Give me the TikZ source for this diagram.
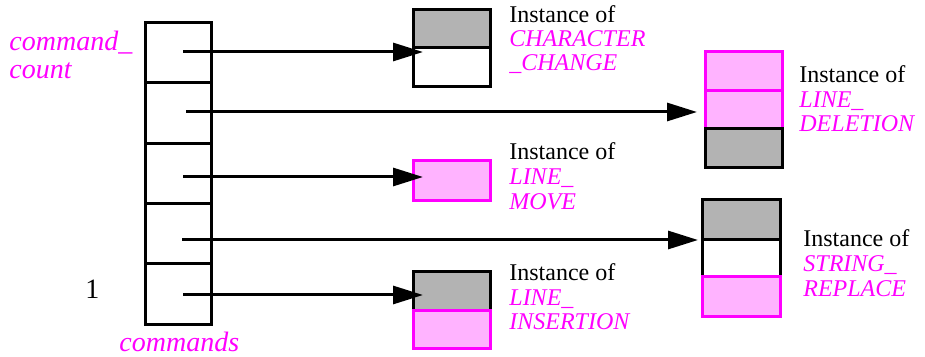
\documentclass[tikz,border=0pt]{standalone}
\usepackage{fontspec}
\setmainfont{Liberation Serif}[ItalicFont={Liberation Serif Italic}]
\usetikzlibrary{arrows.meta}
\definecolor{mag}{HTML}{FF00FF}
\definecolor{pinkfill}{HTML}{FFB3FF}
\definecolor{grayfill}{HTML}{B3B3B3}
\tikzset{
  lw/.style={line width=1.5pt},
  arr/.style={lw, -{Triangle[length=15pt,width=9pt]}},
  lab/.style={anchor=base west, inner sep=0pt, font=\fontsize{12pt}{12pt}\selectfont},
  cls/.style={lab, text=mag, font=\fontsize{12pt}{12pt}\selectfont\itshape},
  biglab/.style={anchor=base west, inner sep=0pt, font=\fontsize{14pt}{14pt}\selectfont},
  bigcls/.style={biglab, text=mag, font=\fontsize{14pt}{14pt}\selectfont\itshape},
}
\newcommand{\boxcell}[6]{% name, x1, y1, x2, y2, style
  \path[#6] (#2,#3) rectangle (#4,#5);
  \coordinate (#1) at ({(#2+#4)/2},{(#3+#5)/2});
}
\begin{document}
\begin{tikzpicture}[x=0.5pt,y=-0.5pt]
\useasboundingbox (0,0) rectangle (925,357);
% array
\draw[lw] (145,23) rectangle (211,325);
\foreach \yy in {83,144,204,264} \draw[lw] (145,\yy) -- (211,\yy);
% boxes
\boxcell{b1a}{413}{10}{490}{48}{lw, draw=black, fill=grayfill}
\boxcell{b1b}{413}{48}{490}{87}{lw, draw=black, fill=white}
\boxcell{b2a}{705}{52}{782}{91}{lw, draw=mag, fill=pinkfill}
\boxcell{b2b}{705}{91}{782}{129}{lw, draw=mag, fill=pinkfill}
\boxcell{b2c}{705}{129}{782}{168}{lw, draw=black, fill=grayfill}
\boxcell{b3a}{413}{161}{490}{201}{lw, draw=mag, fill=pinkfill}
\boxcell{b4a}{702}{200}{780}{240}{lw, draw=black, fill=grayfill}
\boxcell{b4b}{702}{240}{780}{277}{lw, draw=black, fill=white}
\boxcell{b4c}{702}{277}{780}{317}{lw, draw=mag, fill=pinkfill}
\boxcell{b5a}{413}{272}{490}{311}{lw, draw=black, fill=grayfill}
\boxcell{b5b}{413}{311}{490}{348}{lw, draw=mag, fill=pinkfill}
% arrow endpoints
\coordinate (s1) at (183,52);  \coordinate (t1) at (423,52);
\coordinate (s2) at (186,112); \coordinate (t2) at (697,112);
\coordinate (s3) at (183,177); \coordinate (t3) at (423,177);
\coordinate (s4) at (182,240); \coordinate (t4) at (698,240);
\coordinate (s5) at (183,295); \coordinate (t5) at (423,295);
\foreach \i in {1,...,5} \draw[arr] (s\i) -- (t\i);
% labels
\node[bigcls] (cc1) at (9,51) {command\_};
\node[bigcls] (cc2) at (9,79) {count};
\node[biglab] (one) at (85,299) {1};
\node[bigcls] (cmds) at (119,351) {commands};
\node[lab] (i1) at (509,23) {Instance of};
\node[cls] (i1a) at (509,47) {CHARACTER};
\node[cls] (i1b) at (509,71) {\_CHANGE};
\node[lab] (i2) at (799,83) {Instance of};
\node[cls] (i2a) at (799,108) {LINE\_};
\node[cls] (i2b) at (799,132) {DELETION};
\node[lab] (i3) at (509,160) {Instance of};
\node[cls] (i3a) at (509,185) {LINE\_};
\node[cls] (i3b) at (509,210) {MOVE};
\node[lab] (i4) at (803,247) {Instance of};
\node[cls] (i4a) at (803,272) {STRING\_};
\node[cls] (i4b) at (803,297) {REPLACE};
\node[lab] (i5) at (509,281) {Instance of};
\node[cls] (i5a) at (509,306) {LINE\_};
\node[cls] (i5b) at (509,329) {INSERTION};
\end{tikzpicture}
\end{document}
